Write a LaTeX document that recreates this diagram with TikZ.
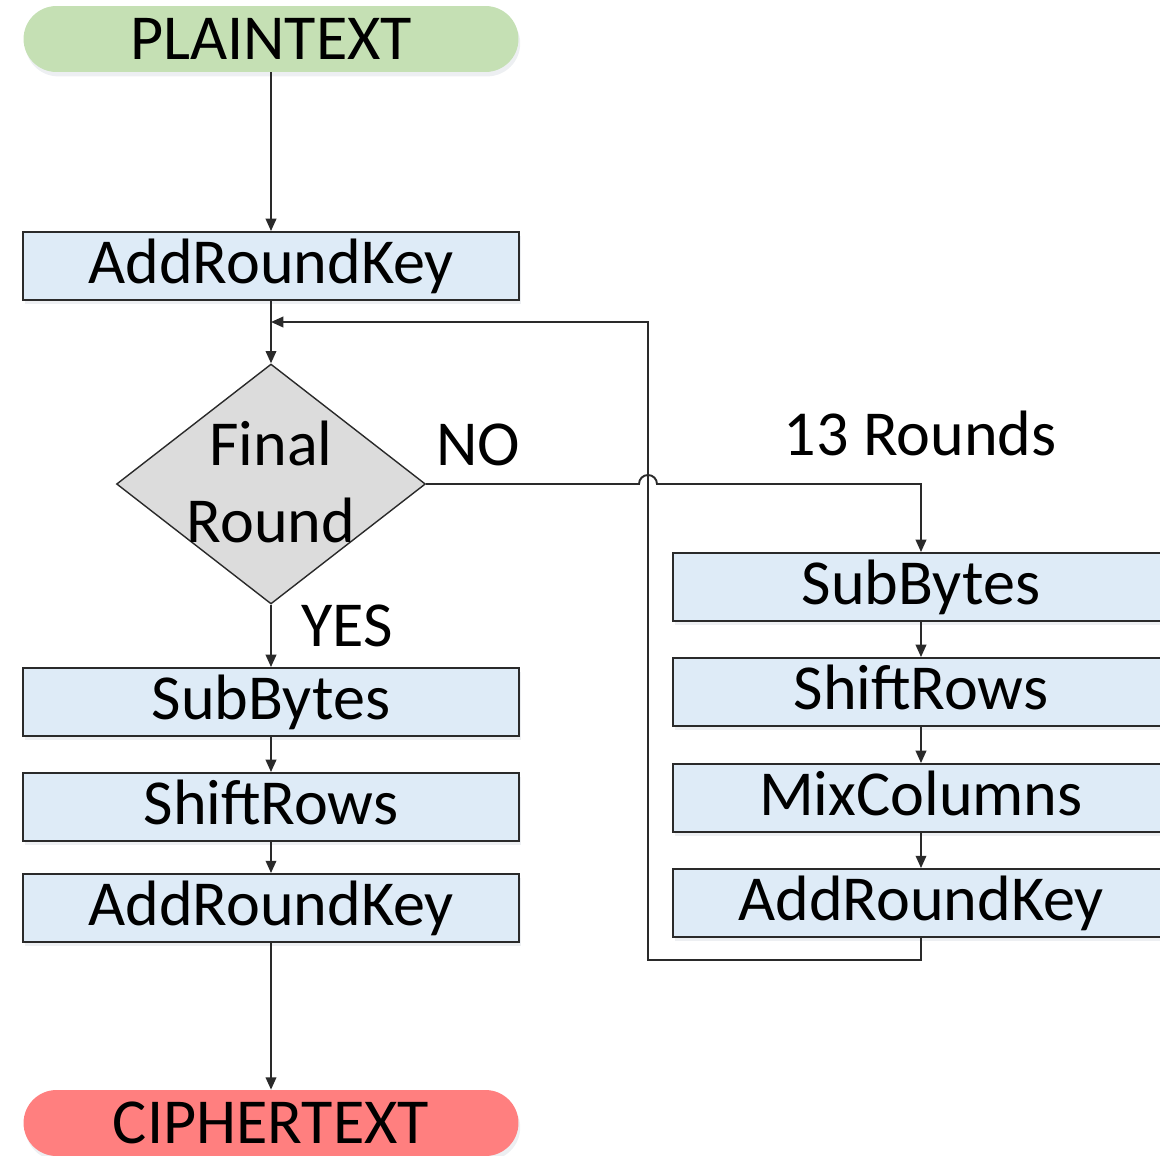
\documentclass[tikz,border=0pt]{standalone}
\usepackage{fontspec}
\setmainfont{Carlito}
\usetikzlibrary{shapes.geometric,arrows.meta,shadows}

\definecolor{plaingreen}{HTML}{C5E0B4}
\definecolor{cipherred}{HTML}{FF7F7F}
\definecolor{stepblue}{HTML}{DEEBF7}
\definecolor{decgray}{HTML}{DCDCDC}
\definecolor{edgegray}{HTML}{2A2A2A}

\begin{document}
\begin{tikzpicture}[x=0.02cm, y=-0.02cm,
    every node/.style={font=\fontsize{36.5}{44}\selectfont},
    soft shadow/.style={drop shadow={shadow xshift=1pt, shadow yshift=-2.5pt, fill=stepblue!70!gray, opacity=0.3}},
    pill/.style={rounded corners=0.66cm, minimum width=9.9cm, minimum height=1.32cm, inner sep=0pt, soft shadow},
    stepbox/.style={draw=edgegray, line width=1.1pt, fill=stepblue, minimum width=9.92cm, minimum height=1.36cm,
        inner sep=0pt, text height=24pt, text depth=4pt, soft shadow},
    decision/.style={diamond, draw=edgegray, line width=0.8pt, fill=decgray, minimum width=6.18cm, minimum height=4.8cm, inner sep=0pt},
    flow/.style={draw=edgegray, line width=1.1pt, -{Triangle[length=7pt,width=6pt]}}]

    % Fix the frame of the picture
    \useasboundingbox (0,0) rectangle (1160,1156);
    \clip (0,0) rectangle (1160,1156);

    % Start and end of the cipher
    \node[pill, fill=plaingreen] (plain) at (271,39) {PLAINTEXT};
    \node[pill, fill=cipherred] (cipher) at (271,1123) {CIPHERTEXT};

    % Initial round key
    \node[stepbox] (ark0) at (271,266) {AddRoundKey};

    % Decision on the last round
    \node[decision] (final) at (271,484) {};
    \node[align=center] (finaltxt) at (271,482) {Final\\Round};

    % Last round (left column)
    \node[stepbox] (sb1) at (271,702) {SubBytes};
    \node[stepbox] (sr1) at (271,807) {ShiftRows};
    \node[stepbox] (ark1) at (271,908) {AddRoundKey};

    % Main rounds (right column)
    \node[stepbox] (rsb) at (921,587) {SubBytes};
    \node[stepbox] (rsr) at (921,692) {ShiftRows};
    \node[stepbox] (rmc) at (921,798) {MixColumns};
    \node[stepbox] (rark) at (921,903) {AddRoundKey};

    % Labels on the branches
    \node (no) at (478,445) {NO};
    \node (yes) at (347,626) {YES};
    \node (rounds) at (920,433) {13 Rounds};

    % Helper points for the loop and the hop
    \coordinate (merge) at (271,322);
    \coordinate (loopturn) at (648,960);
    \coordinate (hopL) at (639,484);

    % Straight arrows down the left side
    \draw[flow] (plain.south) -- (ark0.north);
    \draw[flow] (ark0.south) -- (final.north);
    \draw[flow] (final.south) -- (sb1.north);
    \draw[flow] (sb1.south) -- (sr1.north);
    \draw[flow] (sr1.south) -- (ark1.north);
    \draw[flow] (ark1.south) -- (cipher.north);

    % Arrows down the right side
    \draw[flow] (rsb.south) -- (rsr.north);
    \draw[flow] (rsr.south) -- (rmc.north);
    \draw[flow] (rmc.south) -- (rark.north);

    % NO branch, hopping over the loop line
    \draw[flow] (final.east) -- (hopL) arc[start angle=180, end angle=360, radius=9] -| (rsb.north);

    % Loop back after each round
    \draw[flow] (rark.south) |- (loopturn) |- (merge);

\end{tikzpicture}
\end{document}
